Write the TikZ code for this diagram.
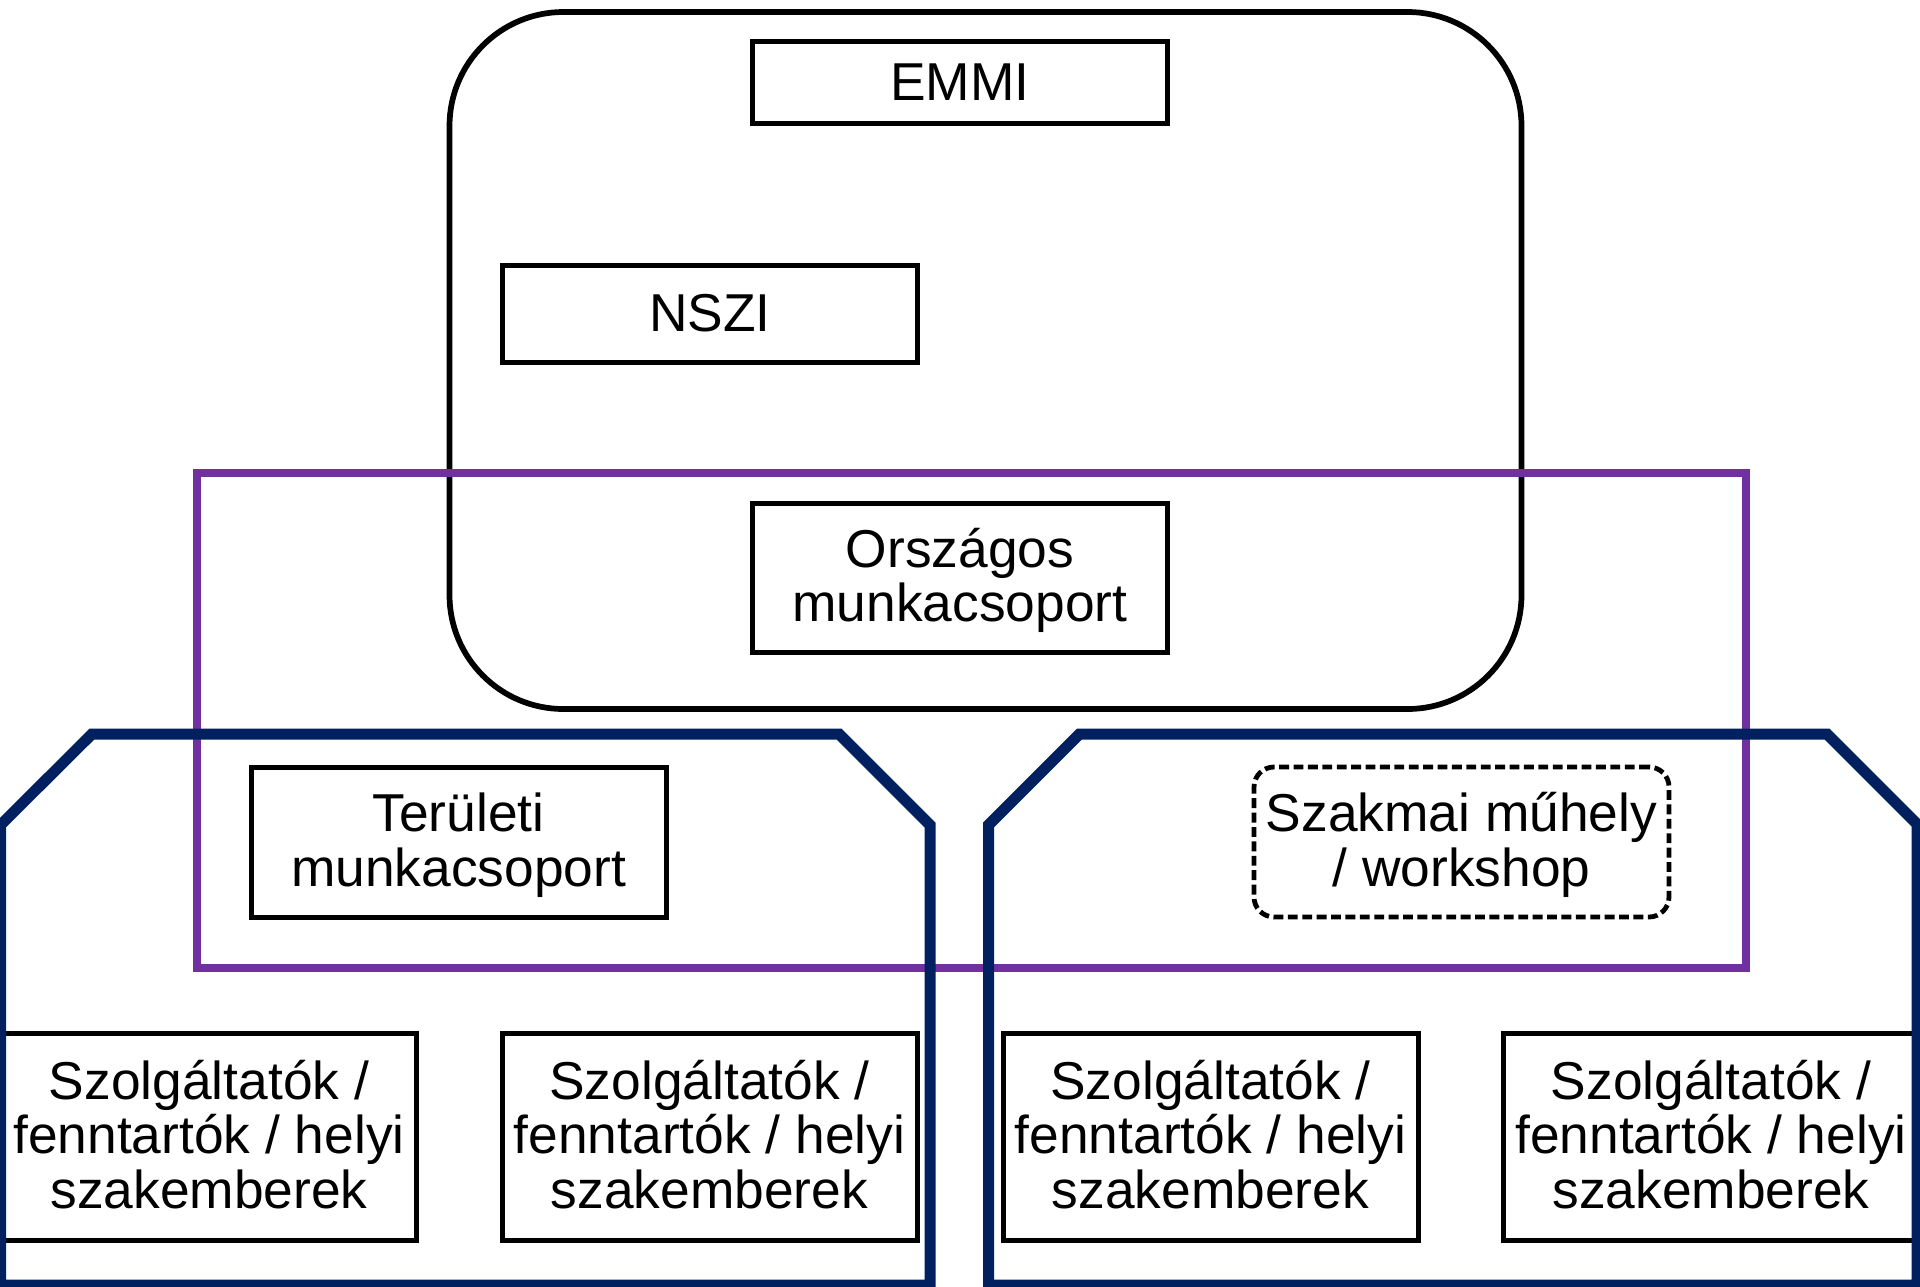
\documentclass[tikz,border=0pt]{standalone}
\usepackage{fontspec}
\setmainfont{Liberation Sans}
\definecolor{dkblue}{HTML}{002060}
\definecolor{grpurple}{HTML}{7030A0}
\begin{document}
\begin{tikzpicture}[x=0.75pt,y=-0.75pt,
  lbl/.style={font=\fontsize{40}{41}\selectfont, align=center, inner sep=0pt},
  sqbox/.style={draw=black, line width=3.75pt, minimum width=311.25pt, inner sep=0pt},
  dashbox/.style={draw=black, line width=3.6pt, dash pattern=on 7.4pt off 3.4pt,
    rounded corners=15pt, minimum width=311.25pt, minimum height=112.5pt, inner sep=0pt},
  bluegroup/.style={draw=dkblue, line width=8.25pt, line join=miter},
  purplegroup/.style={draw=grpurple, line width=6pt},
  topgroup/.style={draw=black, line width=4.3pt, rounded corners=85.5pt}]
\useasboundingbox (0,0) rectangle (1920,1286);
% national level group
\draw[topgroup] (449.5,12) rectangle (1521.5,709);
% purple working-group frame
\draw[purplegroup] (197,473) rectangle (1746,968);
% single-line boxes
\node[sqbox, lbl, minimum height=61.5pt] (emmi) at (960,82) {EMMI};
\node[sqbox, lbl, minimum height=72.75pt] (nszi) at (710,313.5) {NSZI};
% two-line boxes
\node[sqbox, minimum height=111.75pt] (orsz) at (960,577.5) {};
\node[lbl] (orszlbl) at (960,580.5) {Országos\\munkacsoport};
\node[sqbox, minimum height=112.5pt] (terul) at (458.5,842) {};
\node[lbl] (terullbl) at (458.5,845) {Területi\\munkacsoport};
\node[dashbox] (szakm) at (1461.5,842) {};
\node[lbl] (szakmlbl) at (1461.5,845) {Szakmai műhely\\/ workshop};
% three-line boxes
\node[sqbox, minimum height=155.25pt] (szolg1) at (209,1137) {};
\node[lbl] (szolg1lbl) at (209,1134.5) {Szolgáltatók /\\fenntartók / helyi\\szakemberek};
\node[sqbox, minimum height=155.25pt] (szolg2) at (709.5,1137) {};
\node[lbl] (szolg2lbl) at (709.5,1134.5) {Szolgáltatók /\\fenntartók / helyi\\szakemberek};
\node[sqbox, minimum height=155.25pt] (szolg3) at (1210.5,1137) {};
\node[lbl] (szolg3lbl) at (1210.5,1134.5) {Szolgáltatók /\\fenntartók / helyi\\szakemberek};
\node[sqbox, minimum height=155.25pt] (szolg4) at (1711,1137) {};
\node[lbl] (szolg4lbl) at (1711,1134.5) {Szolgáltatók /\\fenntartók / helyi\\szakemberek};
% blue regional groups
\draw[bluegroup] (92,734) -- (839,734) -- (930,825) -- (930,1285) -- (0.5,1285) -- (0.5,825) -- cycle;
\draw[bluegroup] (1079.5,734) -- (1827,734) -- (1917,824) -- (1917,1285) -- (988.5,1285) -- (988.5,825) -- cycle;
\end{tikzpicture}
\end{document}
